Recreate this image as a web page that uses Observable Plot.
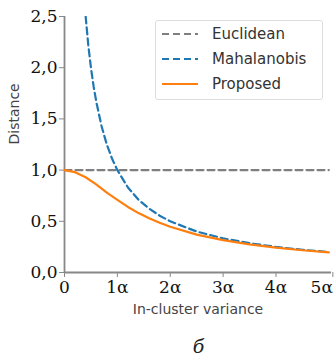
<!DOCTYPE html>
<html><head><meta charset="utf-8">
<script src="https://cdn.jsdelivr.net/npm/d3@7"></script>
<script src="https://cdn.jsdelivr.net/npm/@observablehq/plot@0.6"></script>
<style>
body{margin:0;background:#fff;}
#wrap{position:relative;width:335px;height:359px;}
#legend{position:absolute;left:155px;top:20px;width:168px;height:80px;border:1px solid #ddd;border-radius:3px;background:#fff;box-sizing:border-box;font-family:"DejaVu Sans",sans-serif;font-size:15px;color:#333;}
.row{position:absolute;left:6px;display:flex;align-items:center;}
.row span{margin-left:14px;}
#cap{position:absolute;left:64px;width:269px;top:335px;text-align:center;font-family:"DejaVu Serif",serif;font-style:italic;font-size:19px;color:#222;line-height:22px;}
</style></head>
<body><div id="wrap"><div id="chart"></div><div id="legend"></div><div id="cap">б</div></div>
<script>
const seriesNames = ["Euclidean","Mahalanobis","Proposed"];
const colors = ["#7f7f7f","#1f77b4","#ff7f0e"];
const dashes = ["7,4","7,4",null];
const euclidX = [0, 5];
const euclidY = [1.0, 1.0];
const mahaX = [0.4, 0.45, 0.5, 0.55, 0.6, 0.7, 0.8, 0.9, 1.0, 1.2, 1.4, 1.6, 1.8, 2.0, 2.5, 3.0, 3.5, 4.0, 4.5, 5.0];
const mahaY = [2.5, 2.22, 2.0, 1.82, 1.67, 1.43, 1.25, 1.11, 1.0, 0.83, 0.71, 0.625, 0.555, 0.5, 0.4, 0.333, 0.286, 0.25, 0.222, 0.2];
const propX = [0, 0.2, 0.4, 0.6, 0.8, 1.0, 1.2, 1.4, 1.6, 1.8, 2.0, 2.5, 3.0, 3.5, 4.0, 4.5, 5.0];
const propY = [1.0, 0.98, 0.93, 0.86, 0.78, 0.71, 0.64, 0.58, 0.53, 0.485, 0.447, 0.37, 0.316, 0.275, 0.243, 0.217, 0.196];
const xTicks = [0,1,2,3,4,5];
const xTickLabels = ["0","1α","2α","3α","4α","5α"];
const yTicks = [0,0.5,1,1.5,2,2.5];

const mk = (xs, ys) => xs.map((x,i)=>({x, y: ys[i]}));
const data = [mk(euclidX,euclidY), mk(mahaX,mahaY), mk(propX,propY)];
const yFmt = d => d.toFixed(1).replace(".", ",");
const xFmt = d => xTickLabels[xTicks.indexOf(d)];
const lastTick = xTicks[xTicks.length - 1];

const chart = Plot.plot({
  width: 335, height: 324,
  marginLeft: 64, marginRight: 4, marginTop: 16, marginBottom: 52,
  style: {fontFamily: "'DejaVu Serif', serif", fontSize: "17px"},
  x: {domain: [0, 5.05]},
  y: {domain: [0, 2.5]},
  marks: [
    Plot.axisY({ticks: yTicks, tickSize: 5, stroke: "#888", tickFormat: yFmt, fill: "#111", tickPadding: 2, label: null}),
    Plot.axisX({ticks: xTicks.slice(0, -1), tickSize: 5, stroke: "#888", tickFormat: xFmt, fill: "#111", tickPadding: 3, label: null}),
    Plot.axisX({ticks: [lastTick], tickSize: 5, stroke: "#888", tickFormat: xFmt, fill: "#111", tickPadding: 3, label: null, textAnchor: "end", dx: 4}),
    Plot.ruleX([0], {stroke: "#888", strokeWidth: 1.8}),
    Plot.ruleY([0], {stroke: "#888", strokeWidth: 1.8}),
    ...data.map((d, i) => Plot.line(d, {x: "x", y: "y", stroke: colors[i], strokeWidth: 2.2, strokeDasharray: dashes[i] ?? undefined, clip: true})),
    Plot.text(["Distance"], {frameAnchor: "left", dx: -50, rotate: -90, fontFamily: "DejaVu Sans, sans-serif", fontSize: 14, fill: "#444"}),
    Plot.text(["In-cluster variance"], {frameAnchor: "bottom", dy: 41, fontFamily: "DejaVu Sans, sans-serif", fontSize: 14, fill: "#444"})
  ]
});
document.getElementById("chart").appendChild(chart);

const leg = document.getElementById("legend");
seriesNames.forEach((n, i) => {
  const r = document.createElement("div");
  r.className = "row";
  r.style.top = (4 + i * 25) + "px";
  r.innerHTML = `<svg width="36" height="18"><line x1="0" y1="9" x2="36" y2="9" stroke="${colors[i]}" stroke-width="2.2" ${dashes[i] ? `stroke-dasharray="${dashes[i]}"` : ""}/></svg><span>${n}</span>`;
  leg.appendChild(r);
});
</script></body></html>
